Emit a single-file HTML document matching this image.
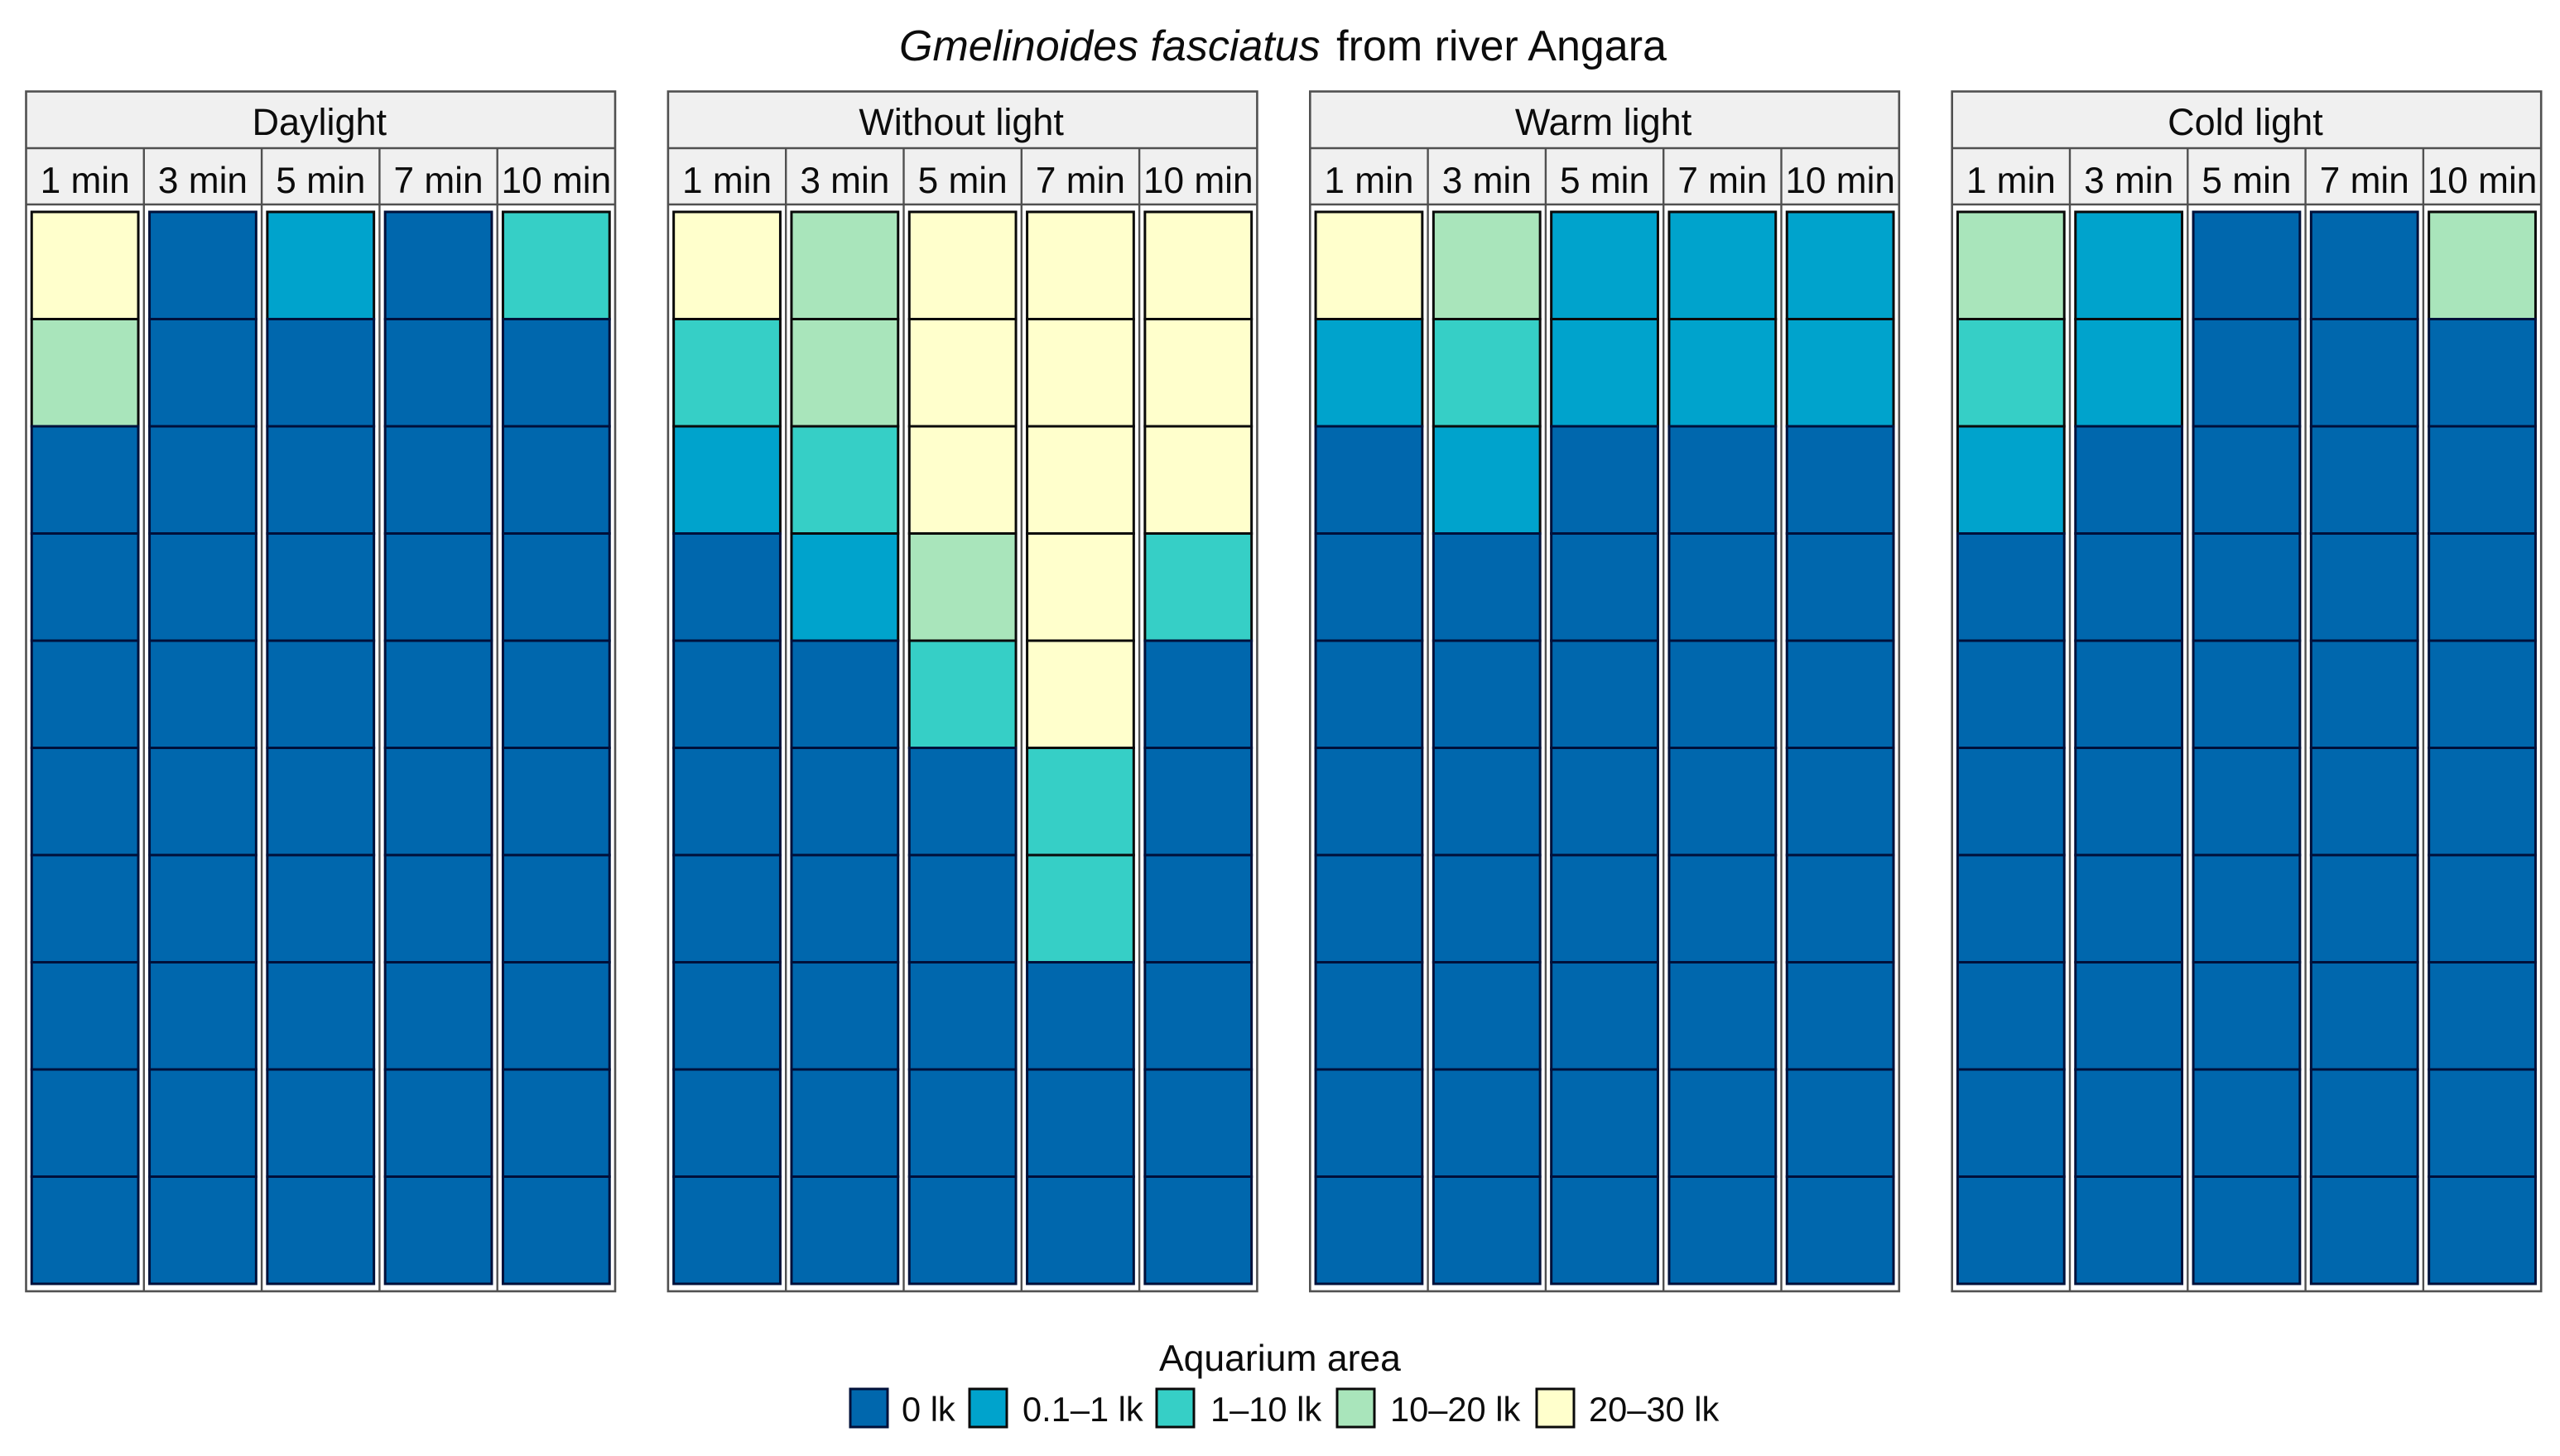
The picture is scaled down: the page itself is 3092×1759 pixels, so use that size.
<!DOCTYPE html>
<html lang="en">
<head>
<meta charset="utf-8">
<title>Gmelinoides fasciatus from river Angara</title>
<style>
html,body{margin:0;padding:0;background:#fff;width:3092px;height:1759px;overflow:hidden}
svg{display:block;font-family:"Liberation Sans",Arial,sans-serif}
text{fill:#0c0c0c}
</style>
</head>
<body>
<svg id="chart" xmlns="http://www.w3.org/2000/svg" width="3092" height="1759" viewBox="0 0 3092 1759">
  <text x="1086" y="73" font-size="52"><tspan font-style="italic">Gmelinoides fasciatus</tspan><tspan dx="5"> from river Angara</tspan></text>
  <text x="1400" y="1656" font-size="44.5">Aquarium area</text>
</svg>
<script>
const facets = ["Daylight", "Without light", "Warm light", "Cold light"];
const times = ["1 min", "3 min", "5 min", "7 min", "10 min"];
const levelLabels = ["0 lk", "0.1–1 lk", "1–10 lk", "10–20 lk", "20–30 lk"];
const levelColors = ["#0067ad", "#00a3cc", "#36cfc6", "#a9e5bb", "#ffffcc"];
const rowCount = 10;

// Light level index per aquarium section (top to bottom), one list per time column
const daylight = [
  [4,3,0,0,0,0,0,0,0,0],
  [0,0,0,0,0,0,0,0,0,0],
  [1,0,0,0,0,0,0,0,0,0],
  [0,0,0,0,0,0,0,0,0,0],
  [2,0,0,0,0,0,0,0,0,0]
];
const withoutLight = [
  [4,2,1,0,0,0,0,0,0,0],
  [3,3,2,1,0,0,0,0,0,0],
  [4,4,4,3,2,0,0,0,0,0],
  [4,4,4,4,4,2,2,0,0,0],
  [4,4,4,2,0,0,0,0,0,0]
];
const warmLight = [
  [4,1,0,0,0,0,0,0,0,0],
  [3,2,1,0,0,0,0,0,0,0],
  [1,1,0,0,0,0,0,0,0,0],
  [1,1,0,0,0,0,0,0,0,0],
  [1,1,0,0,0,0,0,0,0,0]
];
const coldLight = [
  [3,2,1,0,0,0,0,0,0,0],
  [1,1,0,0,0,0,0,0,0,0],
  [0,0,0,0,0,0,0,0,0,0],
  [0,0,0,0,0,0,0,0,0,0],
  [3,0,0,0,0,0,0,0,0,0]
];
const facetValues = [daylight, withoutLight, warmLight, coldLight];

const svg = document.getElementById('chart');
const NS = 'http://www.w3.org/2000/svg';

function make(tag, attrs, parent) {
  const el = document.createElementNS(NS, tag);
  for (const k in attrs) el.setAttribute(k, attrs[k]);
  (parent || svg).appendChild(el);
  return el;
}

// Layout
const panelLeft = 31.5, panelStep = 775.4, panelWidth = 711.5;
const stripTop = 110.5, stripMid = 179, stripBottom = 247, panelBottom = 1560;
const rowTop = 256, rowHeight = 129.5;
const cellFill = 0.905;

function facetX(f) { return panelLeft + f * panelStep; }
function colWidth() { return panelWidth / times.length; }
function xScale(f, c) { return facetX(f) + c * colWidth(); }
function yScale(r) { return rowTop + r * rowHeight; }

const borderColor = '#505050';

facets.forEach(function (name, f) {
  const px = facetX(f);

  const group = make('g', {});
  
  

  const stripBg = make('rect', { x: px, y: stripTop, width: panelWidth, height: stripBottom - stripTop, fill: '#f0f0f0', stroke: 'none' }, group);
  
  

  const title = make('text', { x: px + panelWidth / 2 - 1.5, y: 163, 'font-size': 45, 'text-anchor': 'middle' }, group);
  title.textContent = name;
  
  

  const values = facetValues[f];
  times.forEach(function (t, c) {
    const cx = xScale(f, c);
    const label = make('text', { x: cx + colWidth() / 2, y: 233, 'font-size': 44.2, 'text-anchor': 'middle' }, group);
    label.textContent = t;
    
    

    const w = colWidth() * cellFill;
    const inset = (colWidth() - w) / 2;
    values[c].forEach(function (level, r) {
      const cell = make('rect', {
        x: cx + inset, y: yScale(r), width: w, height: rowHeight,
        fill: levelColors[level], stroke: level === 0 ? '#00103a' : '#0a0a0a', 'stroke-width': 3
      }, group);
      
      
    });

    if (c > 0) {
      const div = make('line', { x1: cx, x2: cx, y1: stripMid, y2: panelBottom, stroke: borderColor, 'stroke-width': 2.4 }, group);
      
      
    }
  });

  [stripMid, stripBottom].forEach(function (y) {
    const hl = make('line', { x1: px, x2: px + panelWidth, y1: y, y2: y, stroke: borderColor, 'stroke-width': 2.4 }, group);
    
    
  });

  const frame = make('rect', { x: px, y: stripTop, width: panelWidth, height: panelBottom - stripTop, fill: 'none', stroke: borderColor, 'stroke-width': 2.6 }, group);
  
  
});

// Legend
const legendKeyX = [1027, 1171, 1397, 1615, 1856];
const legendTextX = [1089, 1235, 1462, 1679, 1919];
levelLabels.forEach(function (lab, i) {
  const g = make('g', {});
  
  

  const key = make('rect', { x: legendKeyX[i], y: 1678, width: 45, height: 46, fill: levelColors[i], stroke: i === 0 ? '#00103a' : '#0a0a0a', 'stroke-width': 3 }, g);
  
  

  const txt = make('text', { x: legendTextX[i], y: 1717, 'font-size': 41.6 }, g);
  txt.textContent = lab;
  
  
});
</script>
</body>
</html>
